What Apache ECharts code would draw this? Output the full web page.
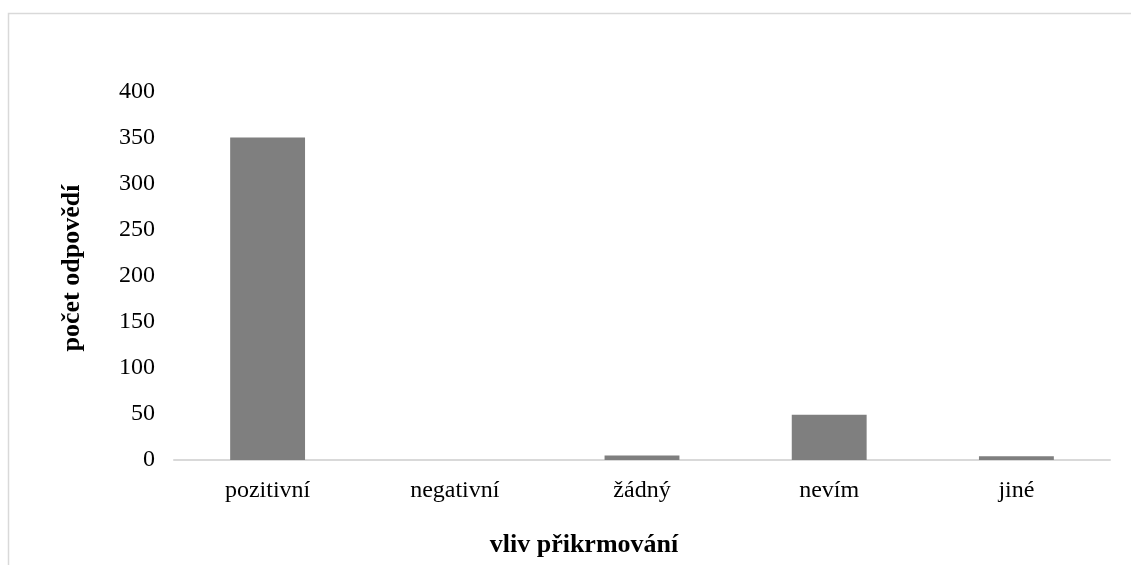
<!DOCTYPE html>
<html>
<head>
<meta charset="utf-8">
<script src="https://cdn.jsdelivr.net/npm/echarts@6/dist/echarts.min.js"></script>
<style>
html,body{margin:0;padding:0;background:#fff;}
#c{width:1131px;height:565px;}
</style>
</head>
<body>
<div id="c"></div>
<script>
const categories = ['pozitivní', 'negativní', 'žádný', 'nevím', 'jiné'];
const values = [350, 0, 5, 49, 4];
const yTicks = [0, 50, 100, 150, 200, 250, 300, 350, 400];
const xTitle = 'vliv přikrmování';
const yTitle = 'počet odpovědí';

const chart = echarts.init(document.getElementById('c'));
const font = '"Liberation Serif", "Times New Roman", serif';
chart.setOption({
  animation: false,
  graphic: [{
    type: 'polyline',
    shape: { points: [[8.5, 570], [8.5, 13.5], [1140, 13.5]] },
    style: { stroke: '#d9d9d9', lineWidth: 1.5, fill: null }
  }, {
    type: 'text',
    x: 584, y: 545,
    style: { text: xTitle, font: 'bold 26px ' + font, fill: '#000', textAlign: 'center', textVerticalAlign: 'middle' }
  }, {
    type: 'text',
    x: 72, y: 268,
    rotation: Math.PI / 2,
    style: { text: yTitle, font: 'bold 26px ' + font, fill: '#000', textAlign: 'center', textVerticalAlign: 'middle' }
  }],
  grid: { left: 174, right: 21, top: 91.5, bottom: 105, containLabel: false },
  xAxis: {
    type: 'category',
    data: categories,
    axisLine: { lineStyle: { color: '#d9d9d9', width: 2 } },
    axisTick: { show: false },
    axisLabel: { fontFamily: font, fontSize: 24, color: '#000', margin: 19 }
  },
  yAxis: {
    type: 'value',
    min: yTicks[0],
    max: yTicks[yTicks.length - 1],
    interval: 50,
    axisLine: { show: false },
    axisTick: { show: false },
    splitLine: { show: false },
    axisLabel: { fontFamily: font, fontSize: 24, color: '#000', margin: 19 }
  },
  series: [{
    type: 'bar',
    data: values,
    barWidth: '40%',
    itemStyle: { color: '#7f7f7f' }
  }]
});
</script>
</body>
</html>
